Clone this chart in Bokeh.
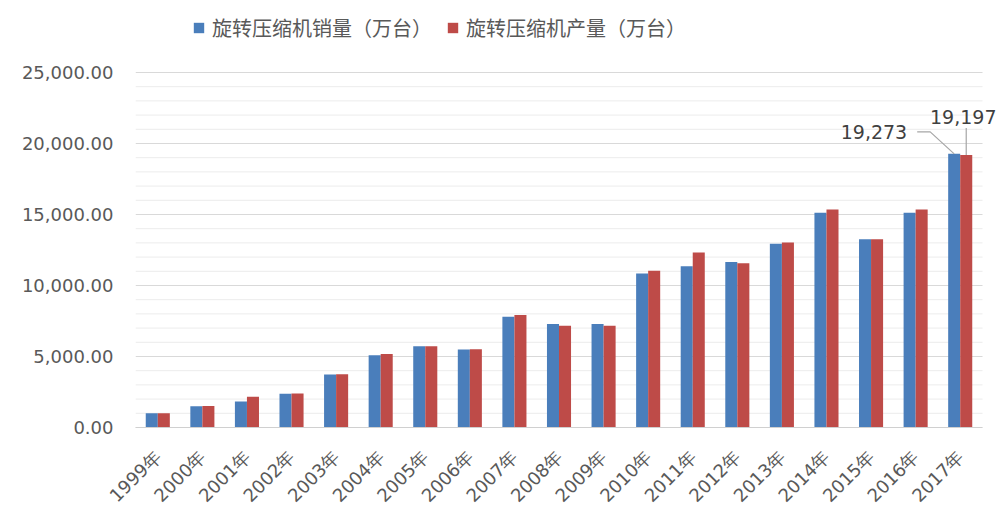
import math
from bokeh.plotting import figure
from bokeh.models import (Range1d, FixedTicker, NumeralTickFormatter,
                          Legend, LegendItem, Label, ColumnDataSource)
from bokeh.transform import dodge
from bokeh.embed import file_html
from bokeh.resources import INLINE

# ---------------- data ----------------
years = ["1999年", "2000年", "2001年", "2002年", "2003年", "2004年", "2005年",
         "2006年", "2007年", "2008年", "2009年", "2010年", "2011年", "2012年",
         "2013年", "2014年", "2015年", "2016年", "2017年"]
sales = [1000, 1500, 1830, 2380, 3740, 5080, 5720, 5500, 7800, 7290, 7290,
         10840, 11360, 11660, 12940, 15130, 13260, 15130, 19273]
production = [1010, 1510, 2160, 2390, 3750, 5180, 5720, 5510, 7920, 7170, 7170,
              11030, 12320, 11560, 13020, 15360, 13260, 15360, 19197]
series_names = ["旋转压缩机销量（万台）", "旋转压缩机产量（万台）"]
y_major = [0, 5000, 10000, 15000, 20000, 25000]
y_minor = [v for v in range(1000, 25000, 1000) if v % 5000 != 0]

BLUE = "#4a7ebb"
RED = "#be4b48"
TXT = "#595959"

# ---------------- layout constants ----------------
W, H = 1000, 518
LEFT, PLOT_RIGHT_PX = 135, 982
TOP_PX, BOTTOM_PX = 4, 427
Y_TOP_TICK_PX = 72
y_end = y_major[-1] * (BOTTOM_PX - TOP_PX) / (BOTTOM_PX - Y_TOP_TICK_PX)
n = len(years)
x_start = -0.5
x_end = x_start + n * (W - LEFT) / (PLOT_RIGHT_PX - LEFT)

xs = list(range(n))
src = ColumnDataSource(dict(x=xs, sales=sales, production=production))

p = figure(width=W, height=H, x_range=Range1d(x_start, x_end),
           y_range=Range1d(0, y_end), output_backend="svg",
           toolbar_location=None, title=None,
           min_border_left=LEFT, min_border_right=0,
           min_border_top=TOP_PX, min_border_bottom=H - BOTTOM_PX)
p.outline_line_color = None
p.background_fill_color = "white"
p.border_fill_color = "white"

# horizontal grid lines, limited to the category span
p.ygrid.grid_line_color = None
p.xgrid.grid_line_color = None
p.segment(x0=[x_start] * len(y_minor), x1=[x_start + n] * len(y_minor),
          y0=y_minor, y1=y_minor, line_color="#ececec", line_width=1, level="underlay")
p.segment(x0=[x_start] * len(y_major), x1=[x_start + n] * len(y_major),
          y0=y_major, y1=y_major, line_color="#d9d9d9", line_width=1, level="underlay")

BW = 0.27
r1 = p.vbar(x=dodge("x", -BW / 2), top="sales", width=BW,
            source=src, fill_color=BLUE, line_color=None)
r2 = p.vbar(x=dodge("x", BW / 2), top="production", width=BW,
            source=src, fill_color=RED, line_color=None)

# y axis
p.yaxis.ticker = FixedTicker(ticks=y_major, minor_ticks=y_minor)
p.yaxis.formatter = NumeralTickFormatter(format="0,0.00")
p.yaxis.axis_line_color = None
p.yaxis.major_tick_line_color = None
p.yaxis.minor_tick_line_color = None
p.yaxis.major_label_text_font = "DejaVu Sans"
p.yaxis.major_label_text_font_size = "18px"
p.yaxis.major_label_text_color = TXT
p.yaxis.major_label_standoff = 16

# x axis
p.xaxis.ticker = FixedTicker(ticks=xs)
p.xaxis.major_label_overrides = {i: years[i] for i in xs}
p.xaxis.bounds = (x_start, x_start + n)
p.xaxis.axis_line_color = "#d0d0d0"
p.xaxis.major_tick_line_color = None
p.xaxis.minor_tick_line_color = None
p.xaxis.major_label_orientation = math.pi / 4
p.xaxis.major_label_text_font = "DejaVu Sans"
p.xaxis.major_label_text_font_size = "18px"
p.xaxis.major_label_text_color = TXT
p.xaxis.major_label_standoff = 20

# legend
legend = Legend(items=[LegendItem(label=series_names[0], renderers=[r1]),
                       LegendItem(label=series_names[1], renderers=[r2])],
                orientation="horizontal", location=(57, 385),
                label_text_font="Noto Sans CJK SC", label_text_font_size="20px",
                label_text_color=TXT, glyph_width=13, glyph_height=13,
                label_standoff=7, spacing=14, padding=0, margin=0,
                border_line_color=None, background_fill_alpha=0)
p.add_layout(legend)

# data labels for the last year
px_per_cat = (PLOT_RIGHT_PX - LEFT) / n
px_per_val = (BOTTOM_PX - Y_TOP_TICK_PX) / y_major[-1]
i = n - 1
cx_blue = xs[i] - BW / 2
cx_red = xs[i] + BW / 2

v_b = sales[i]
bx = [cx_blue, cx_blue - 24 / px_per_cat, cx_blue - 37 / px_per_cat]
by = [v_b, v_b + 22 / px_per_val, v_b + 22 / px_per_val]
p.line(bx, by, line_color="#a6a6a6", line_width=1.2)
p.add_layout(Label(x=bx[-1] - 10 / px_per_cat, y=by[-1], text=f"{v_b:,}",
                   text_align="right", text_baseline="middle",
                   text_font="DejaVu Sans",
                   text_font_size="19px", text_color="#404040"))

v_r = production[i]
rx = [cx_red, cx_red]
ry = [v_r, v_r + 27 / px_per_val]
p.line(rx, ry, line_color="#a6a6a6", line_width=1.2)
p.add_layout(Label(x=cx_red - 3 / px_per_cat, y=ry[-1] + 4 / px_per_val, text=f"{v_r:,}",
                   text_align="center", text_baseline="bottom",
                   text_font="DejaVu Sans",
                   text_font_size="19px", text_color="#404040"))

open("out.html", "w").write(file_html(p, INLINE))
